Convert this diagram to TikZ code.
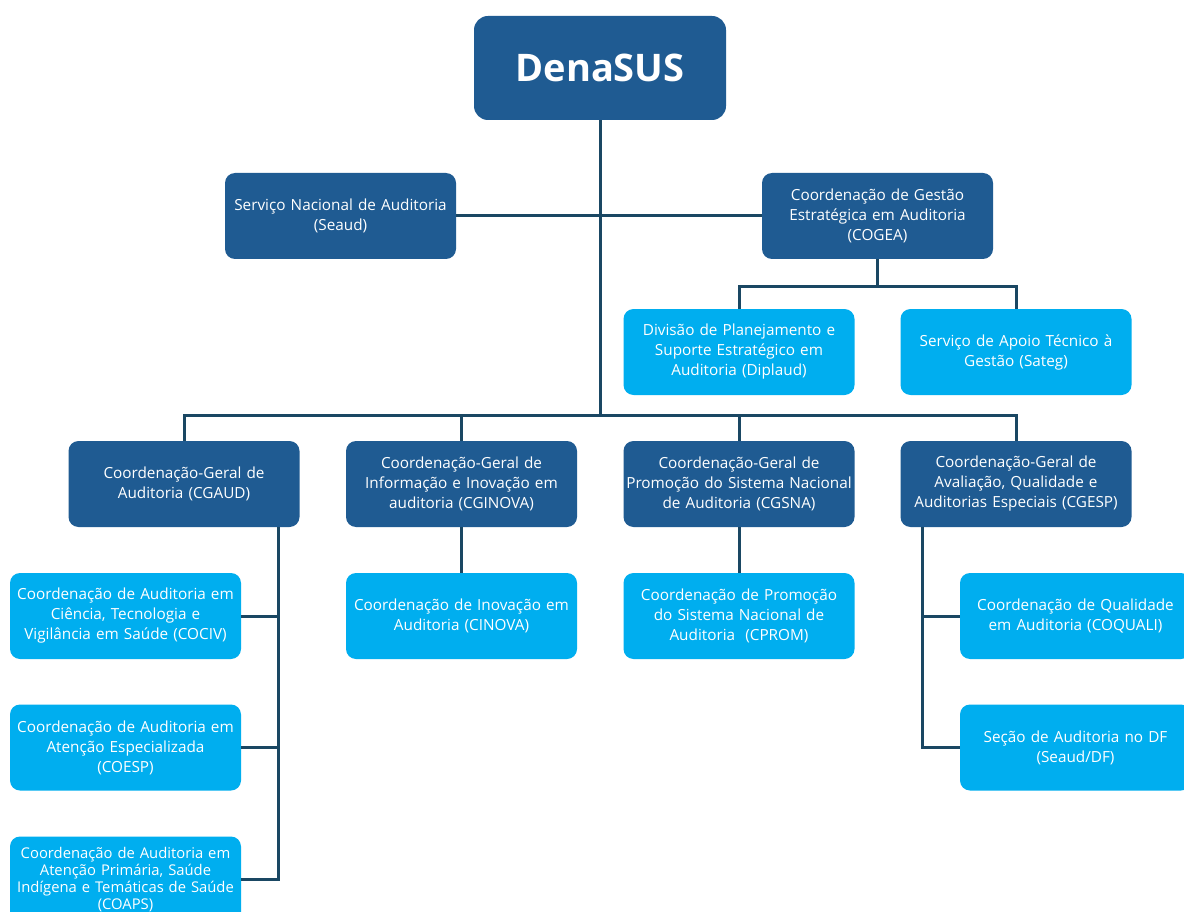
\documentclass[tikz,border=0pt]{standalone}
\usepackage{fontspec}
\setmainfont{Open Sans}
\definecolor{darkbox}{HTML}{1F5B92}
\definecolor{lightbox}{HTML}{00AEEF}
\definecolor{linecol}{HTML}{1A4763}
\tikzset{
  box/.style={rectangle, rounded corners=10pt, minimum width=231pt, minimum height=86pt,
    text width=228pt, align=center, text=white, inner sep=0pt,
    font=\fontsize{15.3}{20}\selectfont},
  dbox/.style={box, fill=darkbox},
  lbox/.style={box, fill=lightbox},
  conn/.style={draw=linecol, line width=3pt}
}
\begin{document}
\begin{tikzpicture}[x=1pt,y=-1pt]
\useasboundingbox (0,0) rectangle (1184,912);
\clip (0,0) rectangle (1184,912);
\fill[white] (0,0) rectangle (1184,912);
% nodes
\node[dbox, minimum width=252pt, minimum height=104pt, rounded corners=14pt,
      font=\fontsize{38}{44}\bfseries] (den) at (600,68) {DenaSUS};
\node[dbox] (seaud) at (340.5,216) {Serviço Nacional de Auditoria\\(Seaud)};
\node[dbox] (cogea) at (877.5,216) {Coordenação de Gestão\\Estratégica em Auditoria\\(COGEA)};
\node[lbox] (diplaud) at (739,352) {Divisão de Planejamento e\\Suporte Estratégico em\\Auditoria (Diplaud)};
\node[lbox] (sateg) at (1016,352) {Serviço de Apoio Técnico à\\Gestão (Sateg)};
\node[dbox] (cgaud) at (184,484) {Coordenação-Geral de\\Auditoria (CGAUD)};
\node[dbox] (cginova) at (461.5,484) {Coordenação-Geral de\\Informação e Inovação em\\auditoria (CGINOVA)};
\node[dbox] (cgsna) at (739,484) {Coordenação-Geral de\\Promoção do Sistema Nacional\\de Auditoria (CGSNA)};
\node[dbox] (cgesp) at (1016,484) {Coordenação-Geral de\\Avaliação, Qualidade e\\Auditorias Especiais (CGESP)};
\node[lbox] (cociv) at (125.5,616) {Coordenação de Auditoria em\\Ciência, Tecnologia e\\Vigilância em Saúde (COCIV)};
\node[lbox] (cinova) at (461.5,616) {Coordenação de Inovação em\\Auditoria (CINOVA)};
\node[lbox] (cprom) at (739,616) {Coordenação de Promoção\\do Sistema Nacional de\\Auditoria~ (CPROM)};
\node[lbox] (coquali) at (1075.5,616) {Coordenação de Qualidade\\em Auditoria (COQUALI)};
\node[lbox] (coesp) at (125.5,747.5) {Coordenação de Auditoria em\\Atenção Especializada\\(COESP)};
\node[lbox, font=\fontsize{14.8}{17}\selectfont] (coaps) at (125.5,879.5) {Coordenação de Auditoria em\\Atenção Primária, Saúde\\Indígena e Temáticas de Saúde\\(COAPS)};
\node[lbox] (seauddf) at (1075.5,747.5) {Seção de Auditoria no DF\\(Seaud/DF)};
% junction coordinates
\coordinate (bus) at (600,415);
\coordinate (cj) at (877.5,287);
\coordinate (sp1) at (278,527);
\coordinate (sp2) at (922,527);
% connectors
\draw[conn] (den.south) -- (bus);
\draw[conn] (seaud.east) -- (cogea.west);
\draw[conn] (cogea.south) -- (cj);
\draw[conn] (diplaud.north) |- (cj) -| (sateg.north);
\draw[conn] (cgaud.north) |- (bus) -| (cgesp.north);
\draw[conn] (cginova.north) -- (cginova.north |- bus);
\draw[conn] (cgsna.north) -- (cgsna.north |- bus);
\draw[conn] (sp1) |- (coaps.east);
\draw[conn] (cociv.east) -- (cociv.east -| sp1);
\draw[conn] (coesp.east) -- (coesp.east -| sp1);
\draw[conn] (cginova.south) -- (cinova.north);
\draw[conn] (cgsna.south) -- (cprom.north);
\draw[conn] (sp2) |- (seauddf.west);
\draw[conn] (coquali.west) -- (coquali.west -| sp2);
\end{tikzpicture}
\end{document}
